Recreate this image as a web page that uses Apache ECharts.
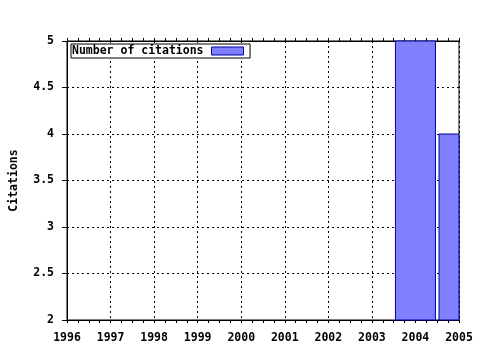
<!DOCTYPE html>
<html><head><meta charset="utf-8">
<script src="https://cdn.jsdelivr.net/npm/echarts@6/dist/echarts.min.js"></script>
<style>html,body{margin:0;padding:0;background:#fff}#c{width:480px;height:350px}</style>
</head><body><div id="c"></div>
<script>
const years = [2004, 2005];
const citations = [5, 4];
const seriesName = 'Number of citations';
const yAxisTitle = 'Citations';
const xMin = 1996, xMax = 2005;
const yMin = 2, yMax = 5, yStep = 0.5;

const font = 'DejaVu Sans Mono';
const fill = '#8080ff', edge = '#0000a0';
const chart = echarts.init(document.getElementById('c'), null, {renderer: 'canvas'});
const dotted = {color: '#000', width: 1, type: [2, 3]};
chart.setOption({
  animation: false,
  grid: {left: 64, right: 21, top: 41, bottom: 30, show: true, borderColor: '#000', borderWidth: 1, backgroundColor: 'transparent'},
  legend: {
    left: 71, top: 44, orient: 'horizontal', align: 'right',
    backgroundColor: '#fff', borderColor: '#000', borderWidth: 1, borderRadius: 0,
    padding: [1, 6, 1, 1], itemWidth: 32, itemHeight: 8, itemGap: 0,
    textStyle: {fontFamily: font, fontWeight: 'bold', fontSize: 11.5, color: '#000', padding: [0, 3, 0, 0]},
    icon: 'rect',
    data: [{name: seriesName, itemStyle: {color: fill, borderColor: edge, borderWidth: 1}}]
  },
  xAxis: [{
    type: 'value', min: xMin, max: xMax, interval: 1, position: 'bottom',
    axisLine: {show: true, lineStyle: {color: '#000'}},
    axisTick: {show: true, inside: false, length: 3, lineStyle: {color: '#000'}},
    minorTick: {show: true, splitNumber: 4, length: 3, lineStyle: {color: '#000'}},
    splitLine: {show: true, lineStyle: dotted},
    axisLabel: {fontFamily: font, fontWeight: 'bold', fontSize: 11.5, color: '#000', margin: 12, formatter: v => String(v)}
  }, {
    type: 'value', min: xMin, max: xMax, interval: 1, position: 'top',
    axisLine: {show: true, lineStyle: {color: '#000'}},
    axisTick: {show: true, inside: false, length: 3, lineStyle: {color: '#000'}},
    minorTick: {show: true, splitNumber: 4, length: 3, lineStyle: {color: '#000'}},
    splitLine: {show: false}, axisLabel: {show: false}
  }],
  yAxis: [{
    type: 'value', min: yMin, max: yMax, interval: yStep,
    name: yAxisTitle, nameLocation: 'middle', nameGap: 47,
    nameTextStyle: {fontFamily: font, fontWeight: 'bold', fontSize: 11.5, color: '#000'},
    axisLine: {show: true, lineStyle: {color: '#000'}},
    axisTick: {show: true, length: 5, lineStyle: {color: '#000'}},
    splitLine: {show: true, lineStyle: dotted},
    axisLabel: {fontFamily: font, fontWeight: 'bold', fontSize: 11.5, color: '#000', margin: 13, formatter: v => String(v)}
  }],
  series: [{
    name: seriesName, type: 'custom',
    itemStyle: {color: fill},
    encode: {x: 0, y: 1},
    renderItem: function (params, api) {
      const x = api.value(0), y = api.value(1);
      const top = api.coord([x, y]);
      const base = api.coord([x, yMin]);
      const half = 20;
      const rect = {x: top[0] - half, y: top[1], width: half * 2, height: base[1] - top[1]};
      const cs = params.coordSys;
      const clipped = echarts.graphic.clipRectByRect(rect, {x: cs.x, y: cs.y, width: cs.width, height: cs.height});
      if (!clipped) return null;
      return {type: 'rect', shape: clipped, style: {fill: fill, stroke: edge, lineWidth: 1}};
    },
    data: years.map((y, i) => [y, citations[i]])
  }]
});
</script></body></html>
